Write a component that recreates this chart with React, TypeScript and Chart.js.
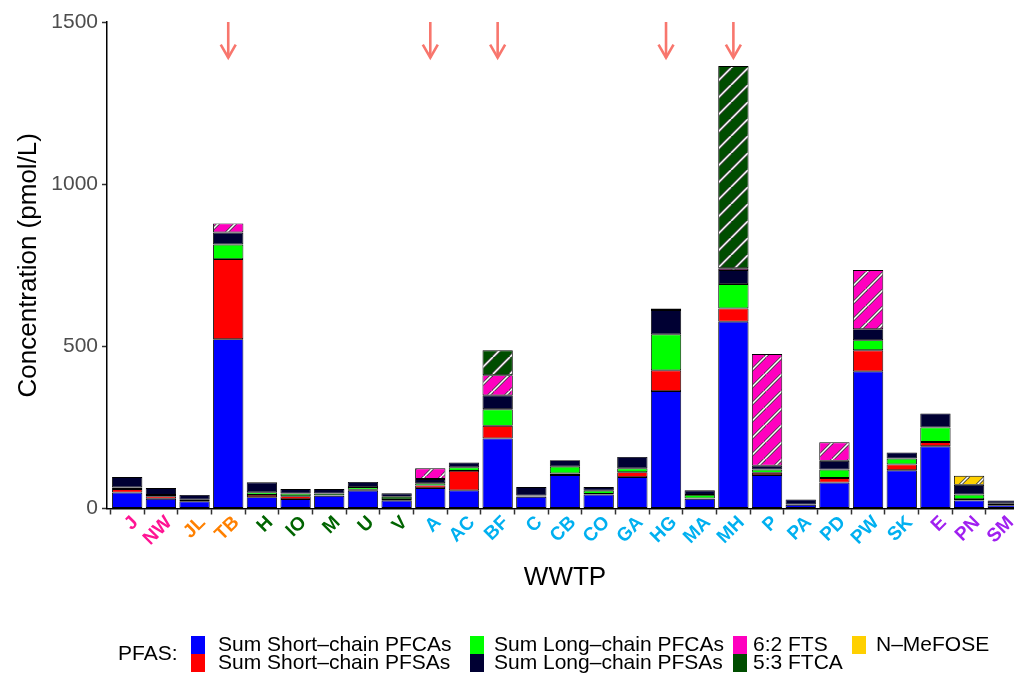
import React, { useEffect, useRef } from 'react';
import { Chart, registerables } from 'chart.js';

Chart.register(...registerables);

const FONT = "'Liberation Sans', Arial, Helvetica, sans-serif";

const categories = ['J', 'NW', 'JL', 'TB', 'H', 'IO', 'M', 'U', 'V', 'A', 'AC', 'BF', 'C', 'CB', 'CO', 'GA', 'HG', 'MA', 'MH', 'P', 'PA', 'PD', 'PW', 'SK', 'E', 'PN', 'SM'];

const categoryColors = [
  '#FF1493', '#FF1493',
  '#FF8000', '#FF8000',
  '#006400', '#006400', '#006400', '#006400', '#006400',
  '#00B0F0', '#00B0F0', '#00B0F0', '#00B0F0', '#00B0F0', '#00B0F0', '#00B0F0', '#00B0F0',
  '#00B0F0', '#00B0F0', '#00B0F0', '#00B0F0', '#00B0F0', '#00B0F0', '#00B0F0',
  '#A020F0', '#A020F0', '#A020F0',
];

// values (pmol/L), bottom to top of each stack
const shortPFCAs = [49, 30, 22, 522, 35, 29, 39, 55, 24, 63, 56, 216, 36, 103, 43, 97, 362, 30, 576, 103, 11, 80, 423, 118, 192, 25, 10];
const shortPFSAs = [11, 8, 1, 247, 7, 9, 1, 3, 5, 8, 60, 39, 1, 5, 2, 15, 64, 1, 41, 7, 1, 14, 65, 18, 13, 4, 1];
const longPFCAs = [5, 4, 4, 45, 8, 8, 6, 8, 7, 7, 11, 51, 3, 21, 10, 12, 111, 11, 75, 10, 0, 26, 31, 18, 45, 14, 5];
const longPFSAs = [32, 21, 15, 37, 31, 14, 14, 16, 11, 13, 15, 43, 26, 20, 11, 35, 75, 14, 43, 12, 16, 27, 34, 19, 43, 30, 9];
const fts62 = [0, 0, 0, 28, 0, 0, 0, 0, 0, 33, 0, 62, 0, 0, 0, 0, 5, 0, 6, 344, 0, 57, 182, 0, 0, 0, 0];
const ftca53 = [0, 0, 0, 0, 0, 0, 0, 0, 0, 0, 0, 77, 0, 0, 0, 0, 0, 0, 623, 0, 0, 0, 0, 0, 0, 0, 0];
const nMeFOSE = [0, 0, 0, 0, 0, 0, 0, 0, 0, 0, 0, 0, 0, 0, 0, 0, 0, 0, 0, 0, 0, 0, 0, 0, 0, 28, 0];

const seriesLabels = ['Sum Short\u2013chain PFCAs', 'Sum Short\u2013chain PFSAs', 'Sum Long\u2013chain PFCAs', 'Sum Long\u2013chain PFSAs', '6:2 FTS', '5:3 FTCA', 'N\u2013MeFOSE'];
const seriesColors = ['#0000FF', '#FF0000', '#00FF00', '#000033', '#FF00BF', '#004D00', '#FFD000'];
const seriesHatched = [false, false, false, false, true, true, true];
const seriesValues = [shortPFCAs, shortPFSAs, longPFCAs, longPFSAs, fts62, ftca53, nMeFOSE];

const yTicks = [0, 500, 1000, 1500];
const yTickLabels = ['0', '500', '1000', '1500'];
const arrowCategories = ['TB', 'A', 'BF', 'HG', 'MH'];
const arrowFrom = 1500;
const arrowTo = 1390;

const legendTitle = 'PFAS:';

function makeStripePattern(ctx: CanvasRenderingContext2D, bg: string) {
  const s = 17;
  const c = document.createElement('canvas');
  c.width = s;
  c.height = s;
  const g = c.getContext('2d')!;
  g.fillStyle = bg;
  g.fillRect(0, 0, s, s);
  const line = (w: number, color: string) => {
    g.strokeStyle = color;
    g.lineWidth = w;
    for (const o of [-s, 0, s]) {
      g.beginPath();
      g.moveTo(o, s);
      g.lineTo(o + s, 0);
      g.stroke();
    }
  };
  line(3.2, '#444');
  line(1.5, '#FFFFFF');
  return ctx.createPattern(c, 'repeat') as CanvasPattern;
}

const arrowPlugin = {
  id: 'arrows',
  afterDraw(chart: any) {
    const { ctx, scales } = chart;
    const xs = scales.x;
    const ys = scales.y;
    ctx.save();
    ctx.strokeStyle = '#F8766D';
    ctx.lineWidth = 2.6;
    ctx.lineCap = 'butt';
    ctx.lineJoin = 'miter';
    arrowCategories.forEach((cat) => {
      const i = categories.indexOf(cat);
      const x = xs.getPixelForValue(i);
      const y0 = ys.getPixelForValue(arrowFrom);
      const y1 = ys.getPixelForValue(arrowTo);
      ctx.beginPath();
      ctx.moveTo(x, y0);
      ctx.lineTo(x, y1);
      ctx.stroke();
      ctx.beginPath();
      ctx.moveTo(x - 7.5, y1 - 13);
      ctx.lineTo(x, y1);
      ctx.lineTo(x + 7.5, y1 - 13);
      ctx.stroke();
    });
    ctx.restore();
  },
};

const legendKeyX = [191, 470, 733, 852];
const legendTextX = [218, 494, 753, 876];

const legendPlugin = {
  id: 'pfasLegend',
  afterDraw(chart: any) {
    const ctx = chart.ctx as CanvasRenderingContext2D;
    ctx.save();
    ctx.font = `21px ${FONT}`;
    ctx.textBaseline = 'middle';
    ctx.textAlign = 'left';
    ctx.fillStyle = '#000';
    const top = 636;
    const keyH = 18;
    ctx.fillText(legendTitle, 118, top + keyH);
    seriesLabels.forEach((label, k) => {
      const col = Math.floor(k / 2);
      const row = k % 2;
      const ky = top + row * keyH;
      ctx.fillStyle = seriesColors[k];
      ctx.fillRect(legendKeyX[col], ky, 14, keyH);
      ctx.fillStyle = '#000';
      ctx.fillText(label, legendTextX[col], ky + keyH / 2);
    });
    ctx.restore();
  },
};

export default function App() {
  const ref = useRef<HTMLCanvasElement>(null);

  useEffect(() => {
    const canvas = ref.current!;
    const ctx = canvas.getContext('2d')!;
    const datasets = seriesLabels.map((label, k) => ({
      label,
      data: seriesValues[k].map((v, i) => ({ x: i, y: v })),
      backgroundColor: seriesHatched[k] ? makeStripePattern(ctx, seriesColors[k]) : seriesColors[k],
      borderColor: '#000000',
      borderWidth: 0.9,
      borderSkipped: false,
      categoryPercentage: 0.9,
      barPercentage: 1,
    }));

    const chart = new Chart(canvas, {
      type: 'bar',
      data: { datasets } as any,
      options: {
        responsive: false,
        animation: false,
        layout: { padding: { top: 22, right: 17, bottom: 76.5, left: 0 } },
        plugins: { legend: { display: false }, tooltip: { enabled: false } },
        scales: {
          x: {
            type: 'linear',
            stacked: true,
            min: -0.6,
            max: 26.6,
            offset: false,
            afterBuildTicks: (s: any) => {
              s.ticks = categories.map((_, i) => ({ value: i }));
            },
            afterFit: (s: any) => {
              s.height = 90;
            },
            grid: { display: true, drawOnChartArea: false, drawTicks: true, tickLength: 6, tickColor: '#333333', tickWidth: 1.5 },
            border: { display: true, color: '#000000', width: 1.5 },
            ticks: {
              autoSkip: false,
              minRotation: 45,
              maxRotation: 45,
              padding: -3,
              labelOffset: 8,
              font: { family: FONT, size: 19, weight: 'bold' },
              color: (c: any) => categoryColors[c.index],
              callback: (_v: any, i: number) => categories[i],
            },
            title: { display: true, text: 'WWTP', font: { family: FONT, size: 26 }, color: '#000', padding: { top: 0, bottom: 5 } },
          },
          y: {
            stacked: true,
            min: 0,
            max: 1500,
            afterBuildTicks: (s: any) => {
              s.ticks = yTicks.map((v) => ({ value: v }));
            },
            afterFit: (s: any) => {
              s.width = 107;
            },
            grid: { display: true, drawOnChartArea: false, drawTicks: true, tickLength: 5, tickColor: '#333333', tickWidth: 1.5 },
            border: { display: true, color: '#000000', width: 1.5 },
            ticks: {
              font: { family: FONT, size: 21 },
              color: '#4D4D4D',
              padding: 4,
              callback: (_v: any, i: number) => yTickLabels[i],
            },
            title: { display: true, text: 'Concentration (pmol/L)', font: { family: FONT, size: 26 }, color: '#000', padding: { top: 13, bottom: 0 } },
          },
        },
      } as any,
      plugins: [arrowPlugin, legendPlugin],
    });
    return () => chart.destroy();
  }, []);

  return (
    <div style={{ position: 'fixed', left: 0, top: 0, width: 1014, height: 675, overflow: 'hidden', background: '#fff' }}>
      <canvas ref={ref} width={1040} height={675} style={{ display: 'block', width: 1040, height: 675 }} />
    </div>
  );
}
